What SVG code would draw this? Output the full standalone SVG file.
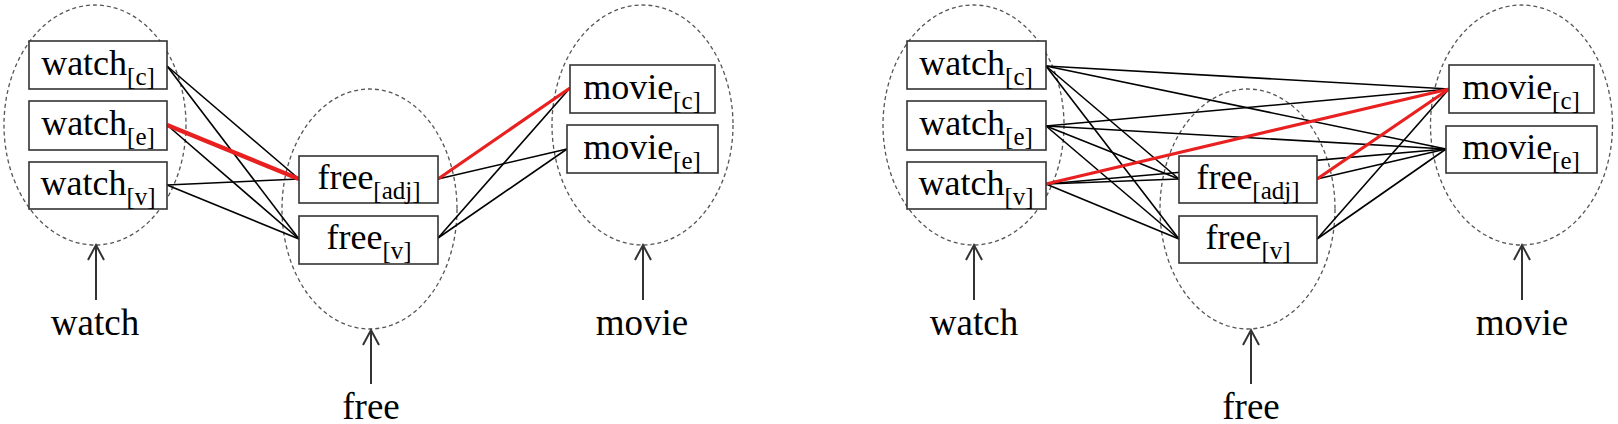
<svg xmlns="http://www.w3.org/2000/svg" width="1618" height="424" viewBox="0 0 1618 424">
<style>
.grp{fill:none;stroke:#555;stroke-width:1.3;stroke-dasharray:4 3}
.box{fill:#fff;stroke:#333;stroke-width:1.6}
.t{font-family:"Liberation Serif","Times New Roman",serif;font-size:36px;fill:#000;text-anchor:middle}
.lbl{font-size:37px}
.s{font-size:25px}
.e{stroke:#000;stroke-width:1.6;fill:none}
.r{stroke:#e8201f;stroke-width:3.2;fill:none}
.rt{stroke:#e8201f;stroke-width:4.5;fill:none}
.arr{stroke:#333;stroke-width:2;fill:none}
</style>
<rect width="1618" height="424" fill="#fff"/>
<!-- group ellipses -->
<g id="groups">
<ellipse class="grp" cx="95" cy="125" rx="91" ry="120"/>
<ellipse class="grp" cx="369.5" cy="209" rx="87.5" ry="120"/>
<ellipse class="grp" cx="642.5" cy="125" rx="90.5" ry="120"/>
<ellipse class="grp" cx="973.5" cy="125" rx="90.5" ry="120"/>
<ellipse class="grp" cx="1247.5" cy="209" rx="87.5" ry="120"/>
<ellipse class="grp" cx="1521.5" cy="125" rx="91" ry="120"/>
</g>
<!-- connectors -->
<g id="connectors">
<line class="e" x1="167" y1="66" x2="299" y2="179"/>
<line class="e" x1="167" y1="66" x2="299" y2="239"/>
<line class="e" x1="167" y1="125" x2="299" y2="239"/>
<line class="e" x1="167" y1="185" x2="299" y2="179"/>
<line class="e" x1="167" y1="185" x2="299" y2="239"/>
<line class="e" x1="438" y1="179" x2="567" y2="149"/>
<line class="e" x1="438" y1="238" x2="570" y2="88"/>
<line class="e" x1="438" y1="238" x2="567" y2="149"/>
<line class="rt" x1="167" y1="125" x2="299" y2="179"/>
<line class="r" x1="438" y1="179" x2="570" y2="88"/>

<line class="e" x1="1046" y1="66" x2="1449" y2="89"/>
<line class="e" x1="1046" y1="66" x2="1446" y2="149"/>
<line class="e" x1="1046" y1="66" x2="1179" y2="179"/>
<line class="e" x1="1046" y1="66" x2="1179" y2="239"/>
<line class="e" x1="1046" y1="126" x2="1449" y2="89"/>
<line class="e" x1="1046" y1="126" x2="1446" y2="149"/>
<line class="e" x1="1046" y1="126" x2="1179" y2="179"/>
<line class="e" x1="1046" y1="126" x2="1179" y2="239"/>
<line class="e" x1="1046" y1="184" x2="1446" y2="149"/>
<line class="e" x1="1046" y1="184" x2="1179" y2="179"/>
<line class="e" x1="1046" y1="184" x2="1179" y2="239"/>
<line class="e" x1="1317" y1="179" x2="1446" y2="149"/>
<line class="e" x1="1317" y1="239" x2="1449" y2="89"/>
<line class="e" x1="1317" y1="239" x2="1446" y2="149"/>
<line class="r" x1="1046" y1="184" x2="1449" y2="89"/>
<line class="r" x1="1317" y1="179" x2="1449" y2="89"/>
</g>
<!-- left panel nodes -->
<g id="L-watch-c"><rect class="box" x="29" y="41" width="138" height="48"/><text class="t" x="98" y="75">watch<tspan class="s" dy="10">[c]</tspan></text></g>
<g id="L-watch-e"><rect class="box" x="29" y="101" width="138" height="49"/><text class="t" x="98" y="135">watch<tspan class="s" dy="10">[e]</tspan></text></g>
<g id="L-watch-v"><rect class="box" x="29" y="162" width="138" height="47"/><text class="t" x="98" y="195">watch<tspan class="s" dy="10">[v]</tspan></text></g>
<g id="L-free-adj"><rect class="box" x="299" y="156" width="139" height="47"/><text class="t" x="369" y="189">free<tspan class="s" dy="10">[adj]</tspan></text></g>
<g id="L-free-v"><rect class="box" x="299" y="216" width="139" height="48"/><text class="t" x="369" y="249">free<tspan class="s" dy="10">[v]</tspan></text></g>
<g id="L-movie-c"><rect class="box" x="570" y="65" width="145" height="48"/><text class="t" x="642" y="99">movie<tspan class="s" dy="10">[c]</tspan></text></g>
<g id="L-movie-e"><rect class="box" x="567" y="125" width="151" height="48"/><text class="t" x="642" y="159">movie<tspan class="s" dy="10">[e]</tspan></text></g>
<!-- right panel nodes -->
<g id="R-watch-c"><rect class="box" x="907" y="41" width="139" height="48"/><text class="t" x="976" y="75">watch<tspan class="s" dy="10">[c]</tspan></text></g>
<g id="R-watch-e"><rect class="box" x="907" y="101" width="139" height="49"/><text class="t" x="976" y="135">watch<tspan class="s" dy="10">[e]</tspan></text></g>
<g id="R-watch-v"><rect class="box" x="907" y="162" width="139" height="47"/><text class="t" x="976" y="195">watch<tspan class="s" dy="10">[v]</tspan></text></g>
<g id="R-free-adj"><rect class="box" x="1179" y="156" width="138" height="47"/><text class="t" x="1248" y="189">free<tspan class="s" dy="10">[adj]</tspan></text></g>
<g id="R-free-v"><rect class="box" x="1179" y="216" width="138" height="47"/><text class="t" x="1248" y="249">free<tspan class="s" dy="10">[v]</tspan></text></g>
<g id="R-movie-c"><rect class="box" x="1449" y="65" width="145" height="48"/><text class="t" x="1521" y="99">movie<tspan class="s" dy="10">[c]</tspan></text></g>
<g id="R-movie-e"><rect class="box" x="1446" y="126" width="151" height="47"/><text class="t" x="1521" y="159">movie<tspan class="s" dy="10">[e]</tspan></text></g>
<!-- word labels with arrows -->
<g id="L-watch-label"><path class="arr" d="M96 300V245M88 260L96 245L104 260"/><text class="t lbl" x="95" y="335">watch</text></g>
<g id="L-free-label"><path class="arr" d="M371 384V330M363 345L371 330L379 345"/><text class="t lbl" x="371" y="419">free</text></g>
<g id="L-movie-label"><path class="arr" d="M643 300V245M635 260L643 245L651 260"/><text class="t lbl" x="642" y="335">movie</text></g>
<g id="R-watch-label"><path class="arr" d="M974 300V245M966 260L974 245L982 260"/><text class="t lbl" x="974" y="335">watch</text></g>
<g id="R-free-label"><path class="arr" d="M1251 384V330M1243 345L1251 330L1259 345"/><text class="t lbl" x="1251" y="419">free</text></g>
<g id="R-movie-label"><path class="arr" d="M1522 300V245M1514 260L1522 245L1530 260"/><text class="t lbl" x="1522" y="335">movie</text></g>
</svg>
